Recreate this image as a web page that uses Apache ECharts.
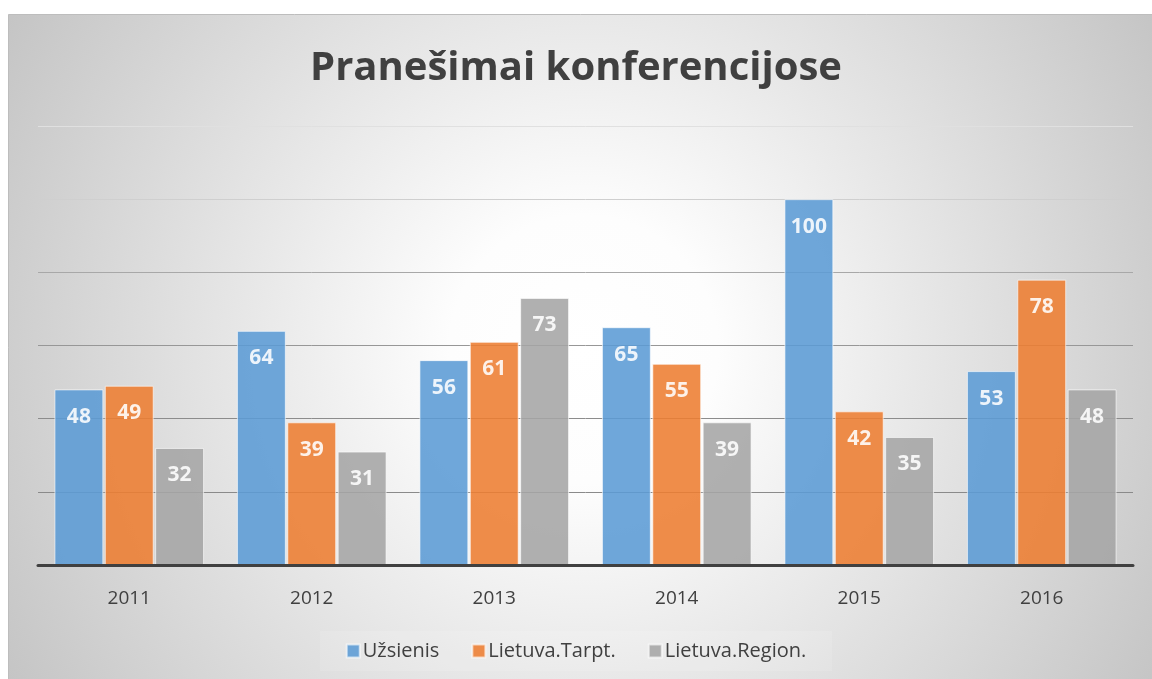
<!DOCTYPE html>
<html>
<head>
<meta charset="utf-8">
<script src="https://cdn.jsdelivr.net/npm/echarts@6/dist/echarts.min.js"></script>
<style>
  html, body { margin: 0; padding: 0; background: #fff; }
  #chart { width: 1152px; height: 679px; }
</style>
</head>
<body>
<div id="chart"></div>
<script>
const years = ["2011", "2012", "2013", "2014", "2015", "2016"];
const uzsienis = [48, 64, 56, 65, 100, 53];
const tarpt = [49, 39, 61, 55, 42, 78];
const region = [32, 31, 73, 39, 35, 48];
const seriesNames = ["Užsienis", "Lietuva.Tarpt.", "Lietuva.Region."];

const FONT = "'Open Sans', sans-serif";
const TEXT = "#404040";

const chart = echarts.init(document.getElementById("chart"), null, { renderer: "canvas" });

const bar = (name, data, color) => ({
  name,
  type: "bar",
  data,
  barGap: "3%",
  barCategoryGap: "18%",
  itemStyle: {
    color,
    opacity: 0.88,
    borderColor: "rgba(255,255,255,0.7)",
    borderWidth: 1,
  },
  label: {
    show: true,
    position: "insideTop",
    distance: 17,
    color: "#fff",
    fontFamily: FONT,
    fontWeight: "bold",
    fontSize: 21,
  },
});

chart.setOption({
  backgroundColor: "#fff",
  graphic: [{
    type: "rect",
    z: -10,
    silent: true,
    shape: { x: 8.5, y: 14.5, width: 1150, height: 670 },
    style: {
      fill: {
        type: "radial", x: 0.5, y: 0.5, r: 1,
        colorStops: [
          { offset: 0, color: "#ffffff" },
          { offset: 0.2, color: "#fdfdfd" },
          { offset: 1, color: "#c4c4c4" },
        ],
      },
      stroke: "#bdbdbd",
      lineWidth: 1,
    },
  }],
  title: {
    text: "Pranešimai konferencijose",
    left: "center",
    top: 44,
    textStyle: { color: TEXT, fontFamily: FONT, fontWeight: "bold", fontSize: 40 },
  },
  legend: {
    bottom: 8,
    left: "center",
    itemWidth: 13,
    itemHeight: 13,
    itemGap: 32,
    padding: [10, 26],
    backgroundColor: "rgba(255,255,255,0.12)",
    textStyle: { color: TEXT, fontFamily: FONT, fontSize: 20, padding: [0, 0, 0, -2] },
    data: seriesNames.map((n) => ({ name: n, icon: "rect" })),
  },
  grid: { left: 38, right: 19, top: 126, bottom: 114, containLabel: false },
  xAxis: {
    type: "category",
    data: years,
    z: 5,
    axisLine: { lineStyle: { color: "#404040", width: 3 } },
    axisTick: { show: false },
    axisLabel: { color: TEXT, fontFamily: FONT, fontSize: 19, margin: 24 },
  },
  yAxis: {
    type: "value",
    min: 0,
    max: 120,
    interval: 20,
    axisLabel: { show: false },
    axisLine: { show: false },
    axisTick: { show: false },
    splitLine: {
      lineStyle: {
        width: 1,
        color: ["#888888", "#8a8a8a", "#8c8c8c", "#979797", "#a8a8a8", "#cfcfcf", "#e0e0e0"],
      },
    },
  },
  series: [
    bar(seriesNames[0], uzsienis, "#5b9bd5"),
    bar(seriesNames[1], tarpt, "#ed7d31"),
    bar(seriesNames[2], region, "#a5a5a5"),
  ],
});
</script>
</body>
</html>
